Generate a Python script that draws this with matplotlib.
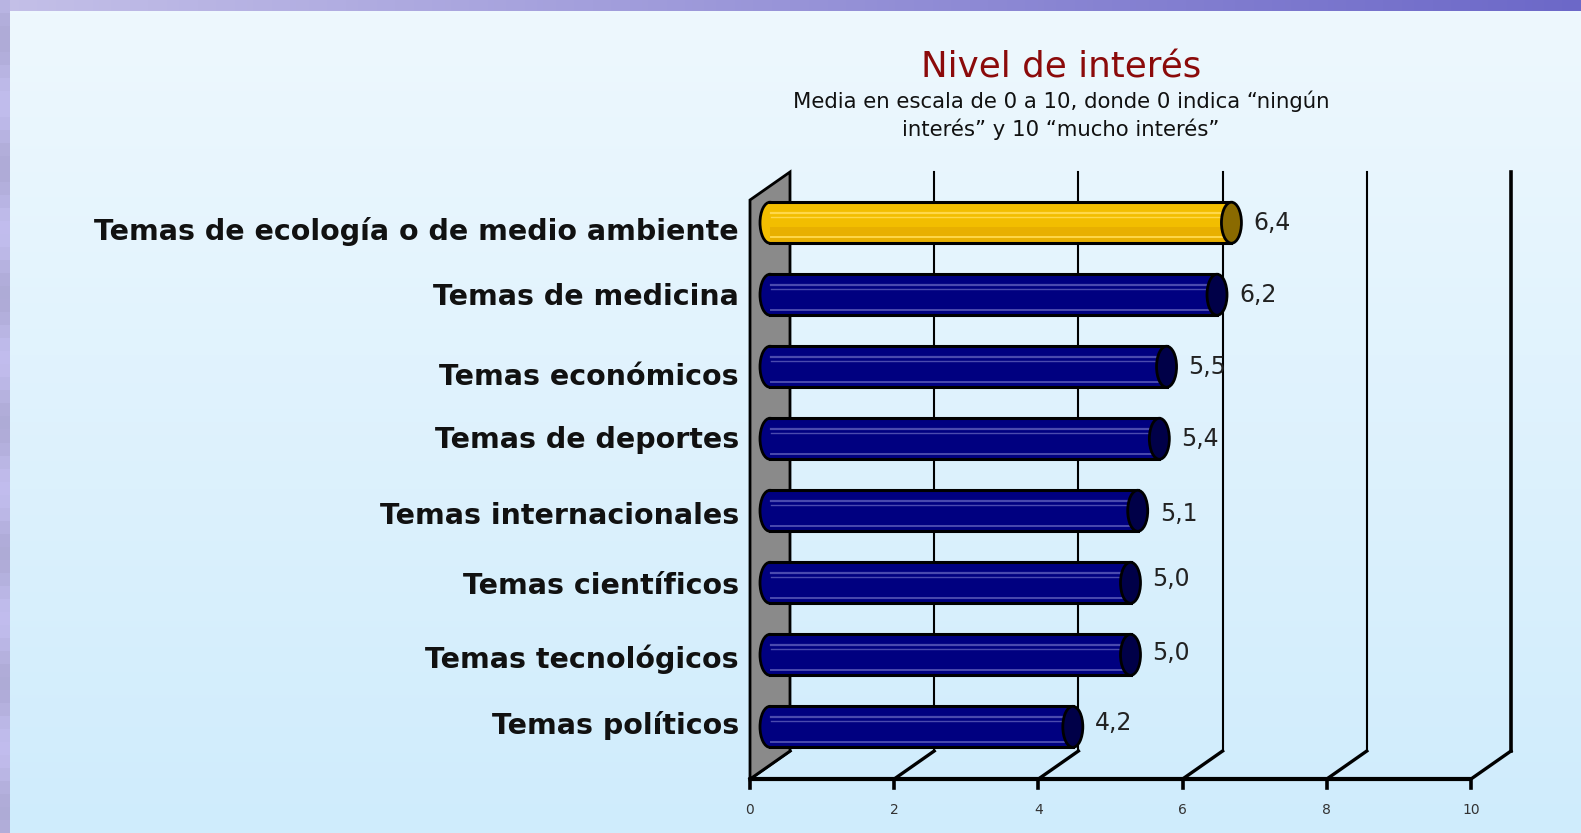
import numpy as np
import matplotlib
matplotlib.use("Agg")
import matplotlib.pyplot as plt
from matplotlib.patches import Ellipse, Rectangle, Polygon

plt.rcParams['font.family'] = ['DejaVu Sans']

# ---------------- data ----------------
categories = [
    "Temas de ecología o de medio ambiente",
    "Temas de medicina",
    "Temas económicos",
    "Temas de deportes",
    "Temas internacionales",
    "Temas científicos",
    "Temas tecnológicos",
    "Temas políticos",
]
values = [6.4, 6.2, 5.5, 5.4, 5.1, 5.0, 5.0, 4.2]
value_labels = ["6,4", "6,2", "5,5", "5,4", "5,1", "5,0", "5,0", "4,2"]
highlight = [True, False, False, False, False, False, False, False]
xticks = [0, 2, 4, 6, 8, 10]
xtick_labels = ["0", "2", "4", "6", "8", "10"]
title = "Nivel de interés"
subtitle = "Media en escala de 0 a 10, donde 0 indica \u201cningún\ninterés\u201d y 10 \u201cmucho interés\u201d"

# layout nudges (pixels, downward) as in the original slide
label_nudge_px = [9, 2, 10, 1, 5, 3, 4, -1]
value_nudge_px = [0, 0, 0, 0, 3, -4, -2, -4]

# ---------------- figure ----------------
W, H = 1581, 833
fig = plt.figure(figsize=(W / 100, H / 100), dpi=100)

# background
bg = fig.add_axes([0, 0, 1, 1])
bg.set_axis_off()
bg.set_xlim(0, W)
bg.set_ylim(H, 0)
top_c = np.array([238, 248, 254]) / 255
bot_c = np.array([207, 236, 252]) / 255
g = np.linspace(0, 1, 256)[:, None, None]
panel = top_c * (1 - g) + bot_c * g
bg.imshow(panel, extent=(10, W, H, 11), aspect='auto', zorder=0)
lc = np.array([196, 192, 232]) / 255
rc = np.array([108, 104, 200]) / 255
gh = np.linspace(0, 1, 256)[None, :, None]
band = lc * (1 - gh) + rc * gh
bg.imshow(band, extent=(0, W, 11, 0), aspect='auto', zorder=0)
lband = np.array([184, 180, 226]) / 255 * np.ones((64, 1, 3))
lband = lband * (1 - 0.05 * np.sin(np.linspace(0, 40, 64))[:, None, None])
bg.imshow(np.clip(lband, 0, 1), extent=(0, 10, H, 0), aspect='auto', zorder=0)

# main axes = front plane of the 3D chart
ax_left, ax_right = 750, 1471
ax_bottom_px, ax_top_px = 779, 200
ax = fig.add_axes([ax_left / W, (H - ax_bottom_px) / H,
                   (ax_right - ax_left) / W, (ax_bottom_px - ax_top_px) / H])
ax.set_axis_off()
ax.patch.set_alpha(0)
ymin, ymax = -0.51, 7.53
ax.set_xlim(0, 10)
ax.set_ylim(ymax, ymin)

ux = (ax_right - ax_left) / 10.0            # px per x unit
uy = (ax_bottom_px - ax_top_px) / (ymax - ymin)  # px per y unit
ddx = 40 / ux
ddy = 28 / uy

# left wall
wall = Polygon([(0, ymax), (0, ymin), (ddx, ymin - ddy), (ddx, ymax - ddy)],
               closed=True, facecolor='#8a8a8a', edgecolor='black', lw=2,
               clip_on=False, zorder=2)
ax.add_patch(wall)

# back gridlines and floor diagonals
for t, tl in zip(xticks, xtick_labels):
    if t > 0:
        ax.plot([t + ddx, t + ddx], [ymax - ddy, ymin - ddy], color='black',
                lw=2.6 if t == 10 else 1.5, clip_on=False, zorder=1)
    ax.plot([t, t + ddx], [ymax, ymax - ddy], color='black', lw=2.4,
            clip_on=False, zorder=1)
    ax.plot([t, t], [ymax, ymax + 9 / uy], color='black', lw=2.6,
            clip_on=False, zorder=3)
    ax.text(t, ymax + 31 / uy, tl, ha='center', va='center',
            fontsize=10, color='#333333')
ax.plot([0, 10], [ymax, ymax], color='black', lw=3, clip_on=False, zorder=3,
        solid_capstyle='butt')

# bars (cylinders at mid depth)
bh = 41 / uy
ew = 20 / ux
x0 = ddx / 2
for i, (v, hl) in enumerate(zip(values, highlight)):
    yc = i - ddy / 2
    body = '#F2BE00' if hl else '#000080'
    cap = '#8A6A00' if hl else '#000048'
    stripe = '#FFD84A' if hl else '#4A4AAE'
    ax.add_patch(Ellipse((x0, yc), ew, bh, facecolor=body, edgecolor='black',
                         lw=2, zorder=4, clip_on=False))
    ax.add_patch(Rectangle((x0, yc - bh / 2), v, bh, facecolor=body,
                           edgecolor='none', zorder=5, clip_on=False))
    if hl:
        ax.add_patch(Rectangle((x0, yc + bh * 0.1), v, bh * 0.4,
                               facecolor='#E2A800', edgecolor='none',
                               alpha=0.6, zorder=5.2, clip_on=False))
    for f, lw in [(0.26, 1.6), (0.36, 1.0), (0.86, 1.4)]:
        ax.plot([x0 + 0.02, x0 + v - 0.1], [yc - bh / 2 + f * bh] * 2,
                color=stripe, lw=lw, zorder=5.5, clip_on=False)
    ax.plot([x0, x0 + v], [yc - bh / 2, yc - bh / 2], color='black', lw=2.2,
            zorder=6, clip_on=False)
    ax.plot([x0, x0 + v], [yc + bh / 2, yc + bh / 2], color='black', lw=2.2,
            zorder=6, clip_on=False)
    ax.add_patch(Ellipse((x0 + v, yc), ew, bh, facecolor=cap,
                         edgecolor='black', lw=2, zorder=7, clip_on=False))
    ax.text(x0 + v + 22 / ux, yc + value_nudge_px[i] / uy, value_labels[i],
            ha='left', va='center', fontsize=17, color='#222222', zorder=8)

# category labels
lab_objs = []
for i, c in enumerate(categories):
    yc = i - ddy / 2 + label_nudge_px[i] / uy
    lab_objs.append(ax.text(-11 / ux, yc, c, ha='right', va='center',
                            fontsize=20, fontweight='bold', color='#111111'))

# title & subtitle
t_title = fig.text(1061 / W, 1 - 68 / H, title, ha='center', va='center',
                   fontsize=22, color='#8B0A0A')
t_sub = fig.text(1061 / W, 1 - 115 / H, subtitle, ha='center', va='center',
                 fontsize=13, color='#111111', linespacing=1.35)

# fit text widths to reference
fig.canvas.draw()
r = fig.canvas.get_renderer()
def fit(t, target):
    w = t.get_window_extent(r).width
    t.set_fontsize(t.get_fontsize() * target / w)
fit(t_title, 279)
fit(t_sub, 537)
w0 = lab_objs[0].get_window_extent(r).width
fs = lab_objs[0].get_fontsize() * 646 / w0
for t in lab_objs:
    t.set_fontsize(fs)

fig.savefig("out.png", dpi=100)
